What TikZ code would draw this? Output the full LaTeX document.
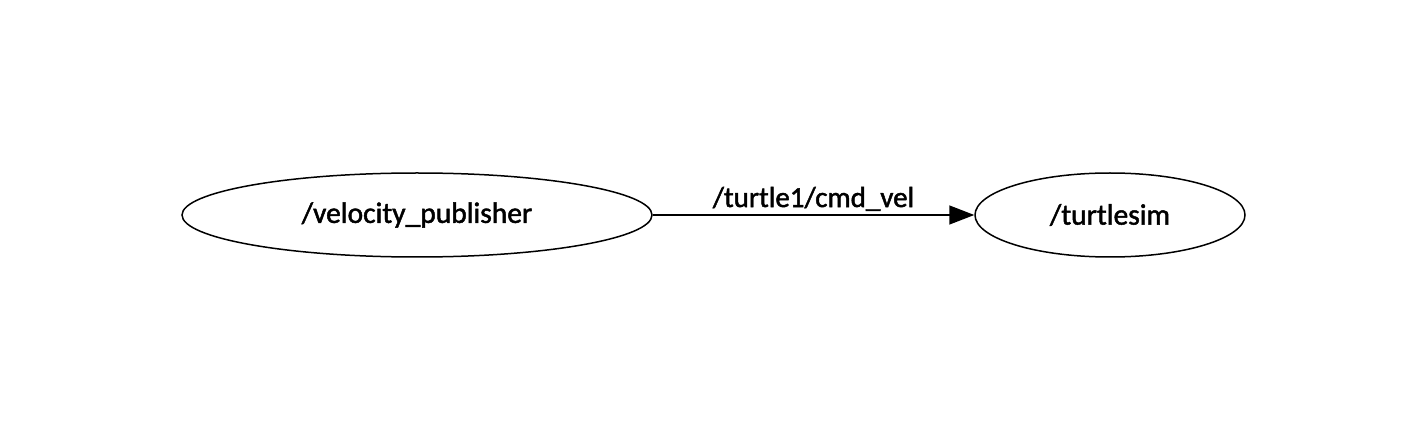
\documentclass[tikz,border=0pt]{standalone}
\usepackage{fontspec}
\setmainfont{Carlito}
\newfontfamily\graphfont[FakeBold=1.6]{Carlito}
\usetikzlibrary{arrows.meta,shapes.geometric}

\begin{document}
\begin{tikzpicture}[x=1pt,y=1pt,
	rosnode/.style={draw, ellipse, line width=1.5pt, inner sep=0pt, font=\graphfont\fontsize{29.5}{34}\selectfont},
	topic/.style={line width=1.5pt, -{Triangle[length=25pt,width=19pt]}}]
	\useasboundingbox (0,0) rectangle (1402,-430);
	\node[rosnode, minimum width=470, minimum height=84] (pub) at (417,-215) {/velocity\_publisher};
	\node[rosnode, minimum width=270, minimum height=84] (sim) at (1110,-215) {/turtlesim};
	\draw[topic] (pub) -- (sim) node[midway, above=0pt, font=\graphfont\fontsize{29}{34}\selectfont] (lbl) {/turtle1/cmd\_vel};
\end{tikzpicture}
\end{document}
